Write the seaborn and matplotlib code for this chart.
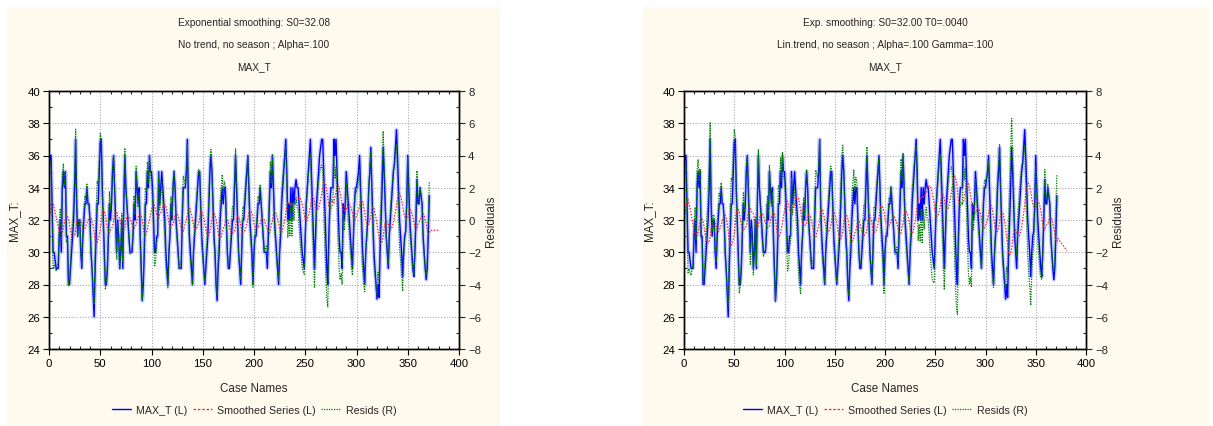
import numpy as np
import pandas as pd
import matplotlib
matplotlib.use("Agg")
import matplotlib.pyplot as plt
import matplotlib.patheffects as pe
from matplotlib.patches import Rectangle
from matplotlib.ticker import MultipleLocator
import seaborn as sns

# ---------------- data ----------------
max_t = [
    35, 36, 36, 33, 30, 30, 29.5, 29, 29, 29,
    31, 32, 30, 34, 35, 34, 35, 31, 31, 28,
    28, 29, 30, 31, 32, 34, 37, 33, 31, 32,
    32, 30, 29, 31, 32, 33, 33, 34, 33, 33,
    32, 30, 29, 27.5, 26, 29, 31, 33, 33, 35,
    36.8, 37, 34, 32, 30, 28, 28, 29, 31, 33,
    32, 33, 35, 36, 34, 32, 30, 32, 31, 29,
    30, 32, 29, 33, 36, 34, 33, 32, 31, 30,
    30, 30, 31, 33, 32, 35, 34, 33, 34, 31,
    29, 27, 28, 30, 33, 33, 35, 34, 36, 35,
    35, 34, 32, 30, 30, 31, 31, 35, 33, 34,
    35, 34, 33, 32, 30, 29, 28, 30, 31, 33,
    32, 34, 35, 34, 32, 31, 30, 29, 29, 29,
    32, 34, 34, 34, 35, 37, 33, 31, 30, 29,
    28, 30, 31, 32, 33, 34, 35, 35, 33, 31,
    30, 29, 28, 29, 30, 31, 33, 35, 36, 35,
    33, 31, 30, 28, 27, 29, 30, 32, 33, 34,
    33, 34, 34, 32, 30, 29, 29, 30, 31, 32,
    32, 34, 36, 34, 32, 30, 29, 28, 30, 32,
    32, 33, 34, 35, 36, 34, 32, 31, 30, 28,
    30, 31, 31, 32, 33, 33, 34, 33, 32, 31,
    30, 30, 30, 29, 31, 33, 35, 34, 36, 34,
    32, 31, 30, 29, 28, 30, 31, 33, 34, 35,
    36, 37, 35, 32, 33, 32, 34, 32, 34, 33,
    34, 34.5, 34, 34, 33, 32, 31, 30, 29.5, 29,
    31, 33, 34, 35, 36, 37, 35, 33, 31, 29,
    31, 33, 34, 35, 36, 36.5, 37, 37, 35, 33,
    31, 29, 28, 31, 33, 34, 34, 34, 37, 36,
    37, 35, 33, 31, 30, 30, 29, 33, 32, 33,
    35, 34, 33, 32, 31, 30, 29, 31, 33, 34,
    34, 34.5, 35, 36, 34, 32, 30, 29, 28, 30,
    31, 32, 34, 35, 36.5, 34, 32, 30, 29, 28,
    27.1, 28, 27.2, 30, 32, 34, 36.5, 35, 33, 31,
    30, 29, 31, 32, 33, 34, 35, 35.5, 36.5, 37.6,
    36, 34, 32, 31, 30, 28.5, 30, 31, 31.3, 33,
    36, 34, 32, 31, 30, 29, 28.5, 30, 32, 34.5,
    33, 33, 34, 33.5, 33, 31, 30, 29, 28.3, 29,
    31, 33.5,
]
forecast_steps = 10

# model parameters shown in the titles
s0_simple, alpha_simple = 32.08, 0.100
s0_holt, t0_holt, alpha_holt, gamma_holt = 32.00, 0.0040, 0.100, 0.100

titles_left = ["Exponential smoothing: S0=32.08",
               "No trend, no season ; Alpha=.100",
               "MAX_T"]
titles_right = ["Exp. smoothing: S0=32.00 T0=.0040",
                "Lin.trend, no season ; Alpha=.100 Gamma=.100",
                "MAX_T"]

# ---------------- smoothing (model as stated in the chart) ----------------
x_obs = np.array(max_t, dtype=float)
n = len(x_obs)

s = [s0_simple]
for t in range(n):
    s.append(s[-1] + alpha_simple * (x_obs[t] - s[-1]))
smooth_simple = np.array(s[:n] + [s[n]] * forecast_steps)
resid_simple = x_obs - smooth_simple[:n]

L, T = s0_holt, t0_holt
fc = []
for t in range(n):
    fc.append(L + T)
    Ln = alpha_holt * x_obs[t] + (1 - alpha_holt) * (L + T)
    T = gamma_holt * (Ln - L) + (1 - gamma_holt) * T
    L = Ln
for k in range(forecast_steps):
    fc.append(L + (k + 1) * T)
smooth_holt = np.array(fc)
resid_holt = x_obs - smooth_holt[:n]

# ---------------- figure ----------------
sns.set_style("ticks")
plt.rcParams['font.family'] = ['Liberation Sans', 'DejaVu Sans']

W, H = 1213, 427
fig = plt.figure(figsize=(W / 100, H / 100), dpi=100)
fig.patch.set_facecolor("white")

cream = "#fefaee"
blue = "#0000ff"
red = "#ff2020"
green = "#008000"
FS = 7.3


def px_rect(x0, y0, x1, y1):
    return [x0 / W, 1 - y1 / H, (x1 - x0) / W, (y1 - y0) / H]


def panel(bg, axrect, smooth, resid, titles, tcenter, leg_y):
    fig.patches.append(Rectangle((bg[0] / W, 1 - bg[3] / H),
                                 (bg[2] - bg[0]) / W, (bg[3] - bg[1]) / H,
                                 transform=fig.transFigure, facecolor=cream,
                                 edgecolor="none", zorder=-5))
    ax = fig.add_axes(px_rect(*axrect))
    ax.set_facecolor("white")
    idx_obs = np.arange(n)
    idx_sm = np.arange(len(smooth))
    d_obs = pd.DataFrame({"case": idx_obs, "v": x_obs})
    d_sm = pd.DataFrame({"case": idx_sm, "v": smooth})
    d_res = pd.DataFrame({"case": idx_obs, "v": resid})

    sns.lineplot(data=d_obs, x="case", y="v", ax=ax, color=blue,
                 lw=1.0, legend=False)
    ax.lines[-1].set_path_effects([pe.Stroke(linewidth=3.0, foreground="#b8bcff", alpha=0.7),
                                   pe.Normal()])
    sns.lineplot(data=d_sm, x="case", y="v", ax=ax, color=red, lw=0.9,
                 linestyle=(0, (1.2, 1.2)), legend=False)
    ax2 = ax.twinx()
    sns.lineplot(data=d_res, x="case", y="v", ax=ax2, color=green, lw=0.9,
                 linestyle=(0, (1, 1)), legend=False)

    ax.set_xlim(0, 400)
    ax.set_ylim(24, 40)
    ax2.set_ylim(-8, 8)
    ax.xaxis.set_major_locator(MultipleLocator(50))
    ax.xaxis.set_minor_locator(MultipleLocator(10))
    ax.yaxis.set_major_locator(MultipleLocator(2))
    ax.yaxis.set_minor_locator(MultipleLocator(1))
    ax2.yaxis.set_major_locator(MultipleLocator(2))
    ax2.yaxis.set_minor_locator(MultipleLocator(1))
    ax.grid(True, which="major", color="#a8a8a8", linestyle=(0, (1, 1.5)), lw=0.8)
    for a in (ax, ax2):
        for sp in a.spines.values():
            sp.set_color("black")
            sp.set_linewidth(1.0)
    ax.tick_params(axis="both", which="major", direction="out", length=4, width=0.8,
                   labelsize=FS + 0.9, colors="black", top=False, pad=2.5)
    ax.tick_params(axis="x", which="minor", direction="in", length=2.5, width=0.8,
                   top=True, bottom=True)
    ax.tick_params(axis="y", which="minor", direction="in", length=2.5, width=0.8)
    ax2.tick_params(axis="y", which="major", direction="out", length=4, width=0.8,
                    labelsize=FS + 0.9, pad=2.5)
    ax2.tick_params(axis="y", which="minor", direction="in", length=2.5, width=0.8)
    ax.set_xlabel("Case Names", fontsize=FS + 1.1, labelpad=10)
    ax.set_ylabel("MAX_T:", fontsize=FS + 1.1, labelpad=5)
    ax2.set_ylabel("Residuals", fontsize=FS + 1.1, labelpad=3)

    for tt, yy in zip(titles, [23, 45, 67]):
        fig.text(tcenter / W, 1 - yy / H, tt, ha="center", va="center", fontsize=FS)

    fig.legend(handles=[plt.Line2D([], [], color=blue, lw=1.0),
                        plt.Line2D([], [], color=red, lw=0.9, linestyle=(0, (2, 1.5))),
                        plt.Line2D([], [], color=green, lw=0.9, linestyle=(0, (1, 1)))],
               labels=["MAX_T (L)", "Smoothed Series (L)", "Resids (R)"],
               loc="center", bbox_to_anchor=(tcenter / W, 1 - leg_y / H),
               ncol=3, frameon=False, fontsize=FS + 0.4, handlelength=1.8,
               columnspacing=0.5, handletextpad=0.5)
    return ax


panel((7, 8, 500, 427), (49, 92, 459, 350), smooth_simple, resid_simple,
      titles_left, 254, 411)
panel((643, 8, 1210, 427), (684, 92, 1086, 350), smooth_holt, resid_holt,
      titles_right, 885, 411)

fig.savefig("out.png", dpi=100, facecolor=fig.get_facecolor())
